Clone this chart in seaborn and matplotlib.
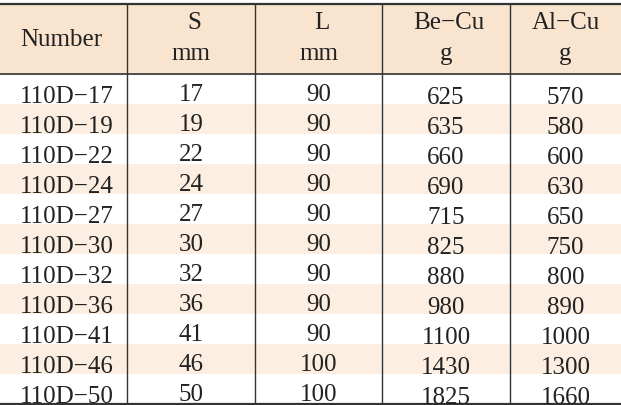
import numpy as np
import pandas as pd
import seaborn as sns
import matplotlib
matplotlib.use("Agg")
import matplotlib.pyplot as plt
from matplotlib.colors import ListedColormap

numbers = ["110D−17","110D−19","110D−22","110D−24","110D−27","110D−30","110D−32","110D−36","110D−41","110D−46","110D−50"]
s_mm = [17,19,22,24,27,30,32,36,41,46,50]
l_mm = [90,90,90,90,90,90,90,90,90,100,100]
be_cu = [625,635,660,690,715,825,880,980,1100,1430,1825]
al_cu = [570,580,600,630,650,750,800,890,1000,1300,1660]
headers = [("Number",), ("S","mm"), ("L","mm"), ("Be−Cu","g"), ("Al−Cu","g")]

W, H = 621, 406
top, head_bot, bot = 5, 75, 405
col_edges = [0, 127, 255, 382, 510, 621]
header_bg = "#f8e4cf"
stripe = "#fcefe2"

sns.set_theme(style="white")
plt.rcParams['font.family'] = ['Liberation Serif', 'DejaVu Serif']
fig = plt.figure(figsize=(W/100, H/100), dpi=100)

n = len(numbers)
flags = pd.DataFrame(np.tile((np.arange(n) % 2)[:, None], (1, 5)))
hax = fig.add_axes([0, (H-bot)/H, 1, (bot-head_bot)/H])
sns.heatmap(flags, ax=hax, cmap=ListedColormap(["white", stripe]), cbar=False,
            xticklabels=False, yticklabels=False, linewidths=0)
hax.axis("off")

ax = fig.add_axes([0, 0, 1, 1])
ax.set_xlim(0, W); ax.set_ylim(H, 0); ax.axis("off")
ax.patch.set_alpha(0)
ax.axhspan(top, head_bot, color=header_bg, zorder=0)
ax.plot([0, W], [top, top], color="#333333", lw=1.6)
ax.plot([0, W], [head_bot, head_bot], color="#333333", lw=1.2)
ax.plot([0, W], [bot, bot], color="#333333", lw=1.6)
for x in col_edges[1:-1]:
    ax.plot([x, x], [top, bot], color="#333333", lw=1.0)

fs = 18
col = "#222222"
centers = [(col_edges[i]+col_edges[i+1])/2 for i in range(5)]
ax.text(20, 40, headers[0][0], ha="left", va="center", fontsize=fs, color=col)
for i in range(1, 5):
    ax.text(centers[i]+(3 if i < 4 else 0), 23, headers[i][0], ha="center", va="center", fontsize=fs, color=col)
    ax.text(centers[i], 54, headers[i][1], ha="center", va="center", fontsize=fs, color=col)

rh = (bot-head_bot)/n
for r in range(n):
    y = head_bot + rh*(r+0.5) + 7
    ax.text(20, y, numbers[r], ha="left", va="center", fontsize=fs, color=col)
    ax.text(centers[1], y-2, str(s_mm[r]), ha="center", va="center", fontsize=fs, color=col)
    ax.text(centers[2], y-2, str(l_mm[r]), ha="center", va="center", fontsize=fs, color=col)
    ax.text(centers[3], y+1, str(be_cu[r]), ha="center", va="center", fontsize=fs, color=col)
    ax.text(centers[4], y+1, str(al_cu[r]), ha="center", va="center", fontsize=fs, color=col)

fig.savefig("out.png", dpi=100)
